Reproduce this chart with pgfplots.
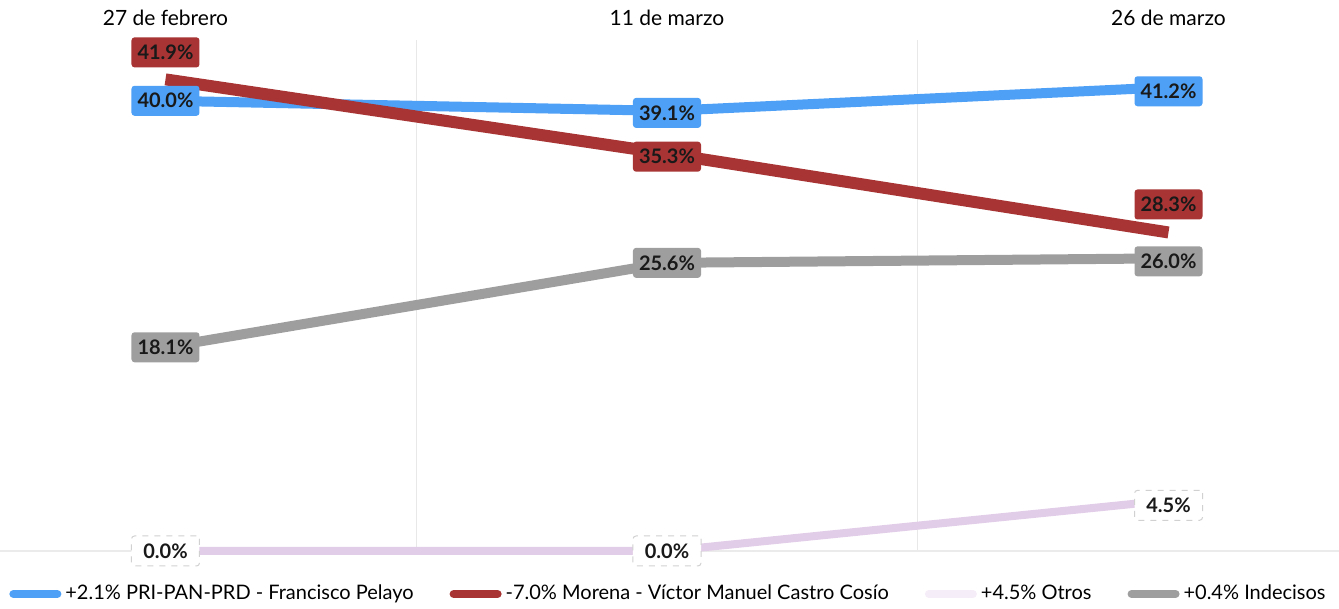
\documentclass[border=0pt]{standalone}
\usepackage{fontspec}
\setmainfont{Lato}
\usepackage{pgfplots}
\pgfplotsset{compat=1.18}
\definecolor{cblue}{RGB}{77,160,245}
\definecolor{cred}{RGB}{168,52,52}
\definecolor{cgray}{RGB}{158,158,158}
\definecolor{cotros}{RGB}{226,205,232}
\pgfplotsset{
  lab/.style={
    nodes near coords={\pgfmathprintnumber[fixed,fixed zerofill,precision=1]{\pgfplotspointmeta}\%},
    point meta=y,
    visualization depends on={\thisrow{dy} \as \dy},
    every node near coord/.append style={anchor=center, yshift=\dy*1pt,
      rectangle, rounded corners=1.5pt, minimum width=34pt, minimum height=15pt, inner sep=1pt,
      text=black!90, font=\fontsize{10}{12}\selectfont\bfseries, fill=#1}
  }
}
\begin{document}
\begin{tikzpicture}
\begin{axis}[
  scale only axis, width=669.5pt, height=255.5pt,
  xmin=-0.33, xmax=2.34, ymin=0, ymax=45.4,
  axis line style={draw=none},
  xtick={0,1,2}, xticklabels={27 de febrero, 11 de marzo, 26 de marzo},
  xticklabel pos=upper,
  xticklabel style={font=\fontsize{10.5}{12}\selectfont, yshift=3.5pt},
  major tick length=0pt, minor tick length=0pt,
  minor xtick={0.5,1.5}, xminorgrids, minor grid style={black!9, line width=0.6pt},
  ytick={0}, yticklabels={}, ymajorgrids, major grid style={black!8, line width=0.6pt},
  /pgf/number format/assume math mode=true,
  clip=false,
  legend columns=4,
  legend cell align=left,
  legend style={draw=none, fill=none, at={(0.5,0)}, anchor=center, yshift=-21.5pt,
    font=\fontsize{10}{12}\selectfont,
    /tikz/every even column/.append style={column sep=16pt}},
]
\addplot[cotros, line width=4pt, lab={white}, every node near coord/.append style={draw=black!18, dashed, line width=0.5pt}, forget plot] table {
x y dy
0 0.0 0
1 0.0 0
2 4.5 -2.5
};
\addplot[cgray, line width=5pt, lab={cgray}, forget plot] table {
x y dy
0 18.1 0
1 25.6 0
2 26.0 -1.5
};
\addplot[cblue, line width=5pt, lab={cblue}, forget plot] table {
x y dy
0 40.0 0
1 39.1 -1
2 41.2 -2
};
\addplot[cred, line width=6pt, lab={cred}, forget plot] table {
x y dy
0 41.9 13.5
1 35.3 -1.5
2 28.3 14
};
\addlegendimage{legend image code/.code={\draw[cblue, line width=4pt, line cap=round] (0pt,0pt) -- (22pt,0pt);}}
\addlegendentry{+2.1\% PRI-PAN-PRD - Francisco Pelayo}
\addlegendimage{legend image code/.code={\draw[cred, line width=4pt, line cap=round] (0pt,0pt) -- (22pt,0pt);}}
\addlegendentry{-7.0\% Morena - Víctor Manuel Castro Cosío}
\addlegendimage{legend image code/.code={\draw[cotros!35, line width=4pt, line cap=round] (0pt,0pt) -- (22pt,0pt);}}
\addlegendentry{+4.5\% Otros}
\addlegendimage{legend image code/.code={\draw[cgray, line width=4pt, line cap=round] (0pt,0pt) -- (22pt,0pt);}}
\addlegendentry{+0.4\% Indecisos}
\end{axis}
\pgfresetboundingbox
\path[use as bounding box] ([yshift=-29pt]current axis.south west) rectangle ([yshift=20pt]current axis.north east);
\end{tikzpicture}
\end{document}
